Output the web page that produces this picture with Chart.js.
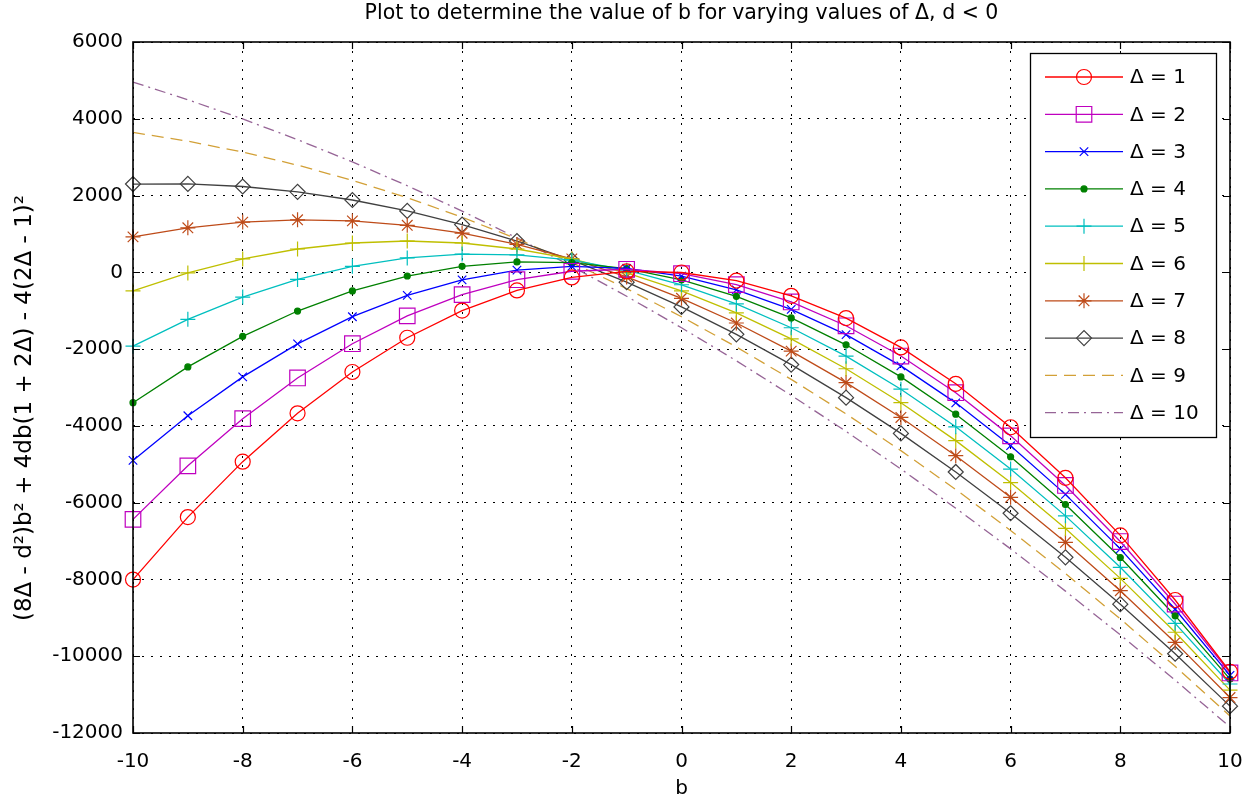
<!DOCTYPE html>
<html>
<head>
<meta charset="utf-8">
<script src="https://cdn.jsdelivr.net/npm/chart.js@4/dist/chart.umd.min.js"></script>
<style>
  html, body { margin: 0; padding: 0; background: #fff; }
  canvas { display: block; }
</style>
</head>
<body>
<canvas id="bChart" width="1245" height="807"></canvas>
<script>
const bValues = [-10, -9, -8, -7, -6, -5, -4, -3, -2, -1, 0, 1, 2, 3, 4, 5, 6, 7, 8, 9, 10];

const delta1 = [-8004, -6376, -4932, -3672, -2596, -1704, -996, -472, -132, 24, -4, -216, -612, -1192, -1956, -2904, -4036, -5352, -6852, -8536, -10404];
const delta2 = [-6436, -5040, -3812, -2752, -1860, -1136, -580, -192, 28, 80, -36, -320, -772, -1392, -2180, -3136, -4260, -5552, -7012, -8640, -10436];
const delta3 = [-4900, -3736, -2724, -1864, -1156, -600, -196, 56, 156, 104, -100, -456, -964, -1624, -2436, -3400, -4516, -5784, -7204, -8776, -10500];
const delta4 = [-3396, -2464, -1668, -1008, -484, -96, 156, 272, 252, 96, -196, -624, -1188, -1888, -2724, -3696, -4804, -6048, -7428, -8944, -10596];
const delta5 = [-1924, -1224, -644, -184, 156, 376, 476, 456, 316, 56, -324, -824, -1444, -2184, -3044, -4024, -5124, -6344, -7684, -9144, -10724];
const delta6 = [-484, -16, 348, 608, 764, 816, 764, 608, 348, -16, -484, -1056, -1732, -2512, -3396, -4384, -5476, -6672, -7972, -9376, -10884];
const delta7 = [924, 1160, 1308, 1368, 1340, 1224, 1020, 728, 348, -120, -676, -1320, -2052, -2872, -3780, -4776, -5860, -7032, -8292, -9640, -11076];
const delta8 = [2300, 2304, 2236, 2096, 1884, 1600, 1244, 816, 316, -256, -900, -1616, -2404, -3264, -4196, -5200, -6276, -7424, -8644, -9936, -11300];
const delta9 = [3644, 3416, 3132, 2792, 2396, 1944, 1436, 872, 252, -424, -1156, -1944, -2788, -3688, -4644, -5656, -6724, -7848, -9028, -10264, -11556];
const delta10 = [4956, 4496, 3996, 3456, 2876, 2256, 1596, 896, 156, -624, -1444, -2304, -3204, -4144, -5124, -6144, -7204, -8304, -9444, -10624, -11844];

const seriesLabels = ['Δ = 1', 'Δ = 2', 'Δ = 3', 'Δ = 4', 'Δ = 5', 'Δ = 6', 'Δ = 7', 'Δ = 8', 'Δ = 9', 'Δ = 10'];
const seriesValues = [delta1, delta2, delta3, delta4, delta5, delta6, delta7, delta8, delta9, delta10];

const yLabel = '(8Δ - d²)b² + 4db(1 + 2Δ) - 4(2Δ - 1)²';

const FONT = '"DejaVu Sans", Verdana, sans-serif';

// couleur, marqueur, taille, tirets
const styles = [
    { color: '#ff0000', marker: 'circle', r: 7.5 },
    { color: '#bf00bf', marker: 'rect', r: 11 },
    { color: '#0000ff', marker: 'crossRot', r: 6 },
    { color: '#008000', marker: 'circle', r: 3, fill: true },
    { color: '#00bfbf', marker: 'cross', r: 7.5 },
    { color: '#bfbf00', marker: 'cross', r: 7.5 },
    { color: 'rgb(190,75,25)', marker: 'star', r: 7.5 },
    { color: '#404040', marker: 'rectRot', r: 7.5 },
    { color: 'rgb(210,160,55)', marker: false, r: 0, dash: [12, 7] },
    { color: 'rgb(150,100,150)', marker: false, r: 0, dash: [11, 5, 2, 5] }
];

const datasets = seriesValues.map((vals, i) => {
    const s = styles[i];
    return {
        label: seriesLabels[i],
        data: vals.map((v, k) => ({ x: bValues[k], y: v })),
        borderColor: s.color,
        borderWidth: 1.3,
        borderDash: s.dash || [],
        pointStyle: s.marker,
        pointRadius: s.r,
        pointBorderColor: s.color,
        pointBackgroundColor: s.fill ? s.color : 'rgba(0,0,0,0)',
        pointBorderWidth: 1.2,
        tension: 0,
        clip: false
    };
});

const frameAndLegend = {
    id: 'frameAndLegend',
    afterDatasetsDraw(chart) {
        const { ctx, chartArea: a, scales } = chart;
        ctx.save();

        // petites graduations vers l'intérieur
        ctx.strokeStyle = '#000';
        ctx.lineWidth = 1.2;
        ctx.setLineDash([]);
        ctx.beginPath();
        scales.x.ticks.forEach(t => {
            const px = Math.round(scales.x.getPixelForValue(t.value)) + 0.5;
            ctx.moveTo(px, a.bottom); ctx.lineTo(px, a.bottom - 7);
            ctx.moveTo(px, a.top); ctx.lineTo(px, a.top + 7);
        });
        scales.y.ticks.forEach(t => {
            const py = Math.round(scales.y.getPixelForValue(t.value)) + 0.5;
            ctx.moveTo(a.left, py); ctx.lineTo(a.left + 7, py);
            ctx.moveTo(a.right, py); ctx.lineTo(a.right - 7, py);
        });
        ctx.stroke();

        ctx.lineWidth = 1.6;
        ctx.strokeRect(a.left, a.top, a.right - a.left, a.bottom - a.top);

        // titre de l'axe y
        ctx.save();
        ctx.translate(25, 408);
        ctx.rotate(-Math.PI / 2);
        ctx.font = '23px ' + FONT;
        ctx.fillStyle = '#000';
        ctx.textAlign = 'center';
        ctx.textBaseline = 'middle';
        ctx.fillText(yLabel, 0, 0);
        ctx.restore();

        // légende
        const box = { x: 1030, y: 53, w: 186, h: 384 };
        ctx.fillStyle = '#fff';
        ctx.fillRect(box.x, box.y, box.w, box.h);
        ctx.lineWidth = 1.3;
        ctx.strokeRect(box.x + 0.5, box.y + 0.5, box.w, box.h);

        ctx.font = '20px ' + FONT;
        ctx.textBaseline = 'middle';
        ctx.textAlign = 'left';
        chart.data.datasets.forEach((ds, i) => {
            const y = 77 + i * 37.3;
            ctx.strokeStyle = ds.borderColor;
            ctx.lineWidth = 1.3;
            ctx.setLineDash(ds.borderDash);
            ctx.beginPath();
            ctx.moveTo(1045, y);
            ctx.lineTo(1123, y);
            ctx.stroke();
            ctx.setLineDash([]);
            if (ds.pointStyle) {
                ctx.fillStyle = ds.pointBackgroundColor;
                ctx.strokeStyle = ds.pointBorderColor;
                ctx.lineWidth = 1.2;
                Chart.helpers.drawPoint(ctx, {
                    pointStyle: ds.pointStyle,
                    radius: ds.pointRadius,
                    rotation: 0,
                    borderWidth: 1.2
                }, 1084, y);
            }
            ctx.fillStyle = '#000';
            ctx.fillText(ds.label, 1130, y + 1);
        });
        ctx.restore();
    }
};

const ctx = document.getElementById('bChart').getContext('2d');
new Chart(ctx, {
    type: 'line',
    data: { datasets: datasets },
    options: {
        responsive: false,
        animation: false,
        events: [],
        layout: { padding: { left: 0, right: 15, top: 0, bottom: 0 } },
        plugins: {
            legend: { display: false },
            tooltip: { enabled: false },
            title: {
                display: true,
                fullSize: false,
                text: 'Plot to determine the value of b for varying values of Δ, d < 0',
                color: '#000',
                font: { family: FONT, size: 20.5, weight: 'normal', lineHeight: '24px' },
                padding: { top: 2, bottom: 16 }
            }
        },
        scales: {
            x: {
                type: 'linear',
                min: -10,
                max: 10,
                afterFit(scale) {
                    scale.height = 74;
                    scale.paddingLeft = 0;
                    scale.paddingRight = 0;
                },
                ticks: {
                    stepSize: 2,
                    color: '#000',
                    padding: 17,
                    maxRotation: 0,
                    font: { family: FONT, size: 20 },
                    callback: v => String(v)
                },
                grid: {
                    color: '#000',
                    lineWidth: 1,
                    drawTicks: false
                },
                border: { display: false, dash: [2, 7] },
                title: {
                    display: true,
                    text: 'b',
                    color: '#000',
                    font: { family: FONT, size: 20 },
                    padding: { top: 0, bottom: 6 }
                }
            },
            y: {
                min: -12000,
                max: 6000,
                afterFit(scale) { scale.width = 133; },
                ticks: {
                    stepSize: 2000,
                    color: '#000',
                    padding: 10,
                    font: { family: FONT, size: 20 },
                    callback: v => String(v)
                },
                grid: {
                    color: '#000',
                    lineWidth: 1,
                    drawTicks: false
                },
                border: { display: false, dash: [2, 7] }
            }
        }
    },
    plugins: [frameAndLegend]
});
</script>
</body>
</html>
